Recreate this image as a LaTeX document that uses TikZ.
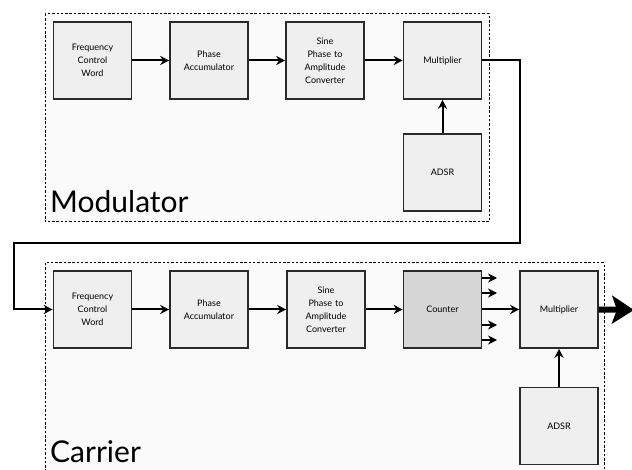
\documentclass[tikz,border=0pt]{standalone}
\usepackage{fontspec}
\setmainfont{Lato}
\usetikzlibrary{arrows.meta}
\definecolor{boxfill}{HTML}{EFEFEF}
\definecolor{cntfill}{HTML}{D6D6D6}
\definecolor{regfill}{HTML}{FAFAFA}
\definecolor{edge}{HTML}{2A2A2A}
\begin{document}
\begin{tikzpicture}[x=1pt,y=-1pt,
  blk/.style={draw=edge,line width=1.6pt,fill=boxfill,minimum width=78pt,minimum height=77pt,
    inner sep=0pt,font=\fontsize{9}{13}\selectfont,align=center,text width=74pt},
  region/.style={draw=black,line width=1pt,fill=regfill,dash pattern=on 2.5pt off 1.8pt},
  conn/.style={draw=black,line width=2pt,-{Stealth[length=9pt,width=9pt]}},
  title/.style={font=\fontsize{30}{32}\selectfont,anchor=base west,inner sep=0pt}]
\useasboundingbox (0,0) rectangle (632,470);
% regions
\path[region] (45,14) rectangle (489,222);
\path[region] (45,263) rectangle (604,480);
% modulator blocks
\node[blk] (m1) at (92.5,60.5) {Frequency\\Control\\Word};
\node[blk] (m2) at (209,60.5) {Phase\\Accumulator};
\node[blk] (m3) at (325,60.5) {Sine\\Phase to\\Amplitude\\Converter};
\node[blk] (m4) at (442.5,60.5) {Multiplier};
\node[blk] (m5) at (442.5,172.5) {ADSR};
\node[title] (mt) at (50,213) {Modulator};
% carrier blocks
\node[blk] (c1) at (92.5,309.5) {Frequency\\Control\\Word};
\node[blk] (c2) at (209,309.5) {Phase\\Accumulator};
\node[blk] (c3) at (326,309.5) {Sine\\Phase to\\Amplitude\\Converter};
\node[blk,fill=cntfill] (c4) at (442.5,309.5) {Counter};
\node[blk] (c5) at (559,309.5) {Multiplier};
\node[blk] (c6) at (559,426) {ADSR};
\node[title] (ct) at (50,462) {Carrier};
% connectors
\draw[conn] (m1) -- (m2);
\draw[conn] (m2) -- (m3);
\draw[conn] (m3) -- (m4);
\draw[conn] (m5) -- (m4);
\coordinate (r1) at (520,243);
\coordinate (l1) at (14,243);
\draw[conn] (m4.east) -| (r1) -- (l1) |- (c1.west);
\draw[conn] (c1) -- (c2);
\draw[conn] (c2) -- (c3);
\draw[conn] (c3) -- (c4);
\draw[conn] (c4) -- (c5);
\draw[conn] (c6) -- (c5);
\coordinate (o1) at (497,278);
\coordinate (o2) at (497,293);
\coordinate (o3) at (497,325);
\coordinate (o4) at (497,340);
\draw[conn] (c4.east |- o1) -- (o1);
\draw[conn] (c4.east |- o2) -- (o2);
\draw[conn] (c4.east |- o3) -- (o3);
\draw[conn] (c4.east |- o4) -- (o4);
\coordinate (out) at (634,310);
\draw[line width=6pt,-{Stealth[length=22pt,width=28pt,inset=5pt]}] (c5.east) -- (out);
\end{tikzpicture}
\end{document}
